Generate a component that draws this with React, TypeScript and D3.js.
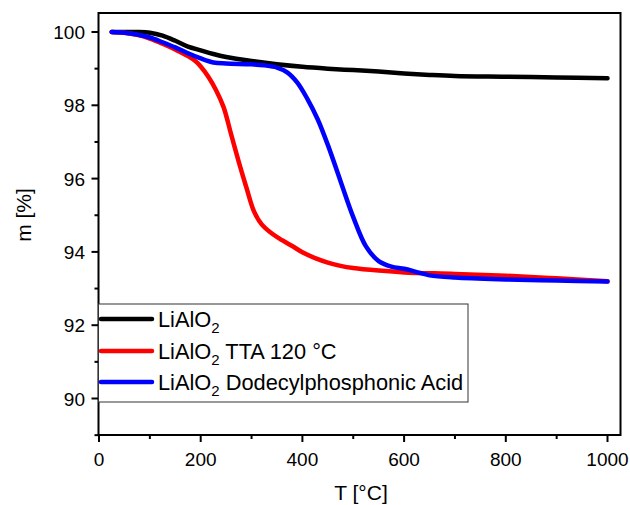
import React from "react";
import * as d3 from "d3";

const seriesNames = ["LiAlO2", "LiAlO2 TTA 120 °C", "LiAlO2 Dodecylphosphonic Acid"];
const seriesColors = ["#000000", "#ff0000", "#0000ff"];

const blackT = [25, 50, 75, 100, 125, 150, 175, 200, 225, 250, 300, 350, 400, 450, 500, 550, 600, 650, 700, 800, 900, 1000];
const blackM = [100, 100, 100, 99.98, 99.9, 99.76, 99.6, 99.5, 99.4, 99.32, 99.21, 99.12, 99.05, 99.0, 98.96, 98.92, 98.87, 98.83, 98.8, 98.78, 98.76, 98.74];

const redT = [25, 50, 75, 100, 125, 150, 175, 190, 200, 215, 230, 245, 260, 275, 290, 305, 320, 340, 360, 380, 400, 425, 450, 475, 500, 550, 600, 700, 800, 900, 1000];
const redM = [100, 99.98, 99.92, 99.82, 99.68, 99.52, 99.34, 99.2, 99.06, 98.78, 98.42, 97.95, 97.2, 96.45, 95.75, 95.1, 94.75, 94.5, 94.32, 94.16, 93.99, 93.83, 93.71, 93.62, 93.56, 93.49, 93.44, 93.4, 93.35, 93.28, 93.2];

const blueT = [25, 50, 75, 100, 125, 150, 175, 200, 225, 250, 300, 325, 350, 370, 390, 410, 430, 450, 475, 500, 525, 550, 575, 600, 625, 650, 700, 800, 900, 1000];
const blueM = [100, 99.98, 99.93, 99.85, 99.72, 99.58, 99.42, 99.28, 99.17, 99.14, 99.12, 99.09, 99.03, 98.9, 98.62, 98.17, 97.62, 96.92, 95.93, 94.95, 94.15, 93.75, 93.6, 93.54, 93.45, 93.36, 93.3, 93.25, 93.22, 93.19];

const xTicks = [0, 200, 400, 600, 800, 1000];
const xMinor = [100, 300, 500, 700, 900];
const yTicks = [90, 92, 94, 96, 98, 100];
const yMinor = [89, 91, 93, 95, 97, 99];

const W = 630, H = 505;
const L = 98.5, R = 620.5, T = 13, B = 435;
const FONT = "'Liberation Sans', Arial, sans-serif";

export default function App() {
  const x = d3.scaleLinear().domain([0, 1000]).range([99, 607.5]);
  const y = d3.scaleLinear().domain([100, 90]).range([32, 398.5]);
  const line = d3.line<[number, number]>().x(d => x(d[0])).y(d => y(d[1])).curve(d3.curveCatmullRom.alpha(0.5));
  const data: [number, number][][] = [
    blackT.map((t, i) => [t, blackM[i]] as [number, number]),
    redT.map((t, i) => [t, redM[i]] as [number, number]),
    blueT.map((t, i) => [t, blueM[i]] as [number, number]),
  ];
  const legY = [319, 351, 382];
  return (
    <svg width={W} height={H} style={{ position: "absolute", left: 0, top: 0 }} fontFamily={FONT}>
      <rect width={W} height={H} fill="#fff" />
      {data.map((d, i) => (
        <path key={i} d={line(d) || ""} fill="none" stroke={seriesColors[i]} strokeWidth={4.5} strokeLinecap="round" strokeLinejoin="round" />
      ))}
      <rect x={L} y={T} width={R - L} height={B - T} fill="none" stroke="#000" strokeWidth={2} />
      {xTicks.map(t => (
        <g key={"x" + t}>
          <line x1={x(t)} x2={x(t)} y1={B} y2={B + 7} stroke="#000" strokeWidth={2} />
          <text x={x(t)} y={466} fontSize={19} textAnchor="middle">{t}</text>
        </g>
      ))}
      {xMinor.map(t => (
        <line key={"xm" + t} x1={x(t)} x2={x(t)} y1={B} y2={B + 4} stroke="#000" strokeWidth={2} />
      ))}
      {yTicks.map(t => (
        <g key={"y" + t}>
          <line x1={L - 7} x2={L} y1={y(t)} y2={y(t)} stroke="#000" strokeWidth={2} />
          <text x={85} y={y(t) + 7} fontSize={19} textAnchor="end">{t}</text>
        </g>
      ))}
      {yMinor.map(t => (
        <line key={"ym" + t} x1={L - 4} x2={L} y1={y(t)} y2={y(t)} stroke="#000" strokeWidth={2} />
      ))}
      <text x={361} y={500} fontSize={21} textAnchor="middle">T [°C]</text>
      <text transform="translate(31,215) rotate(-90)" fontSize={21} textAnchor="middle">m [%]</text>
      <rect x={L} y={304} width={468 - L} height={98} fill="#fff" stroke="#333" strokeWidth={1} />
      {seriesNames.map((n, i) => (
        <g key={"l" + i}>
          <line x1={101} x2={152} y1={legY[i]} y2={legY[i]} stroke={seriesColors[i]} strokeWidth={4.5} strokeLinecap="round" />
          <text x={158} y={legY[i] + 7.5} fontSize={21.8}>
            LiAlO<tspan dy={6} fontSize={15}>2</tspan>
            {i > 0 && <tspan dy={-6}>{n.slice(6)}</tspan>}
          </text>
        </g>
      ))}
    </svg>
  );
}
